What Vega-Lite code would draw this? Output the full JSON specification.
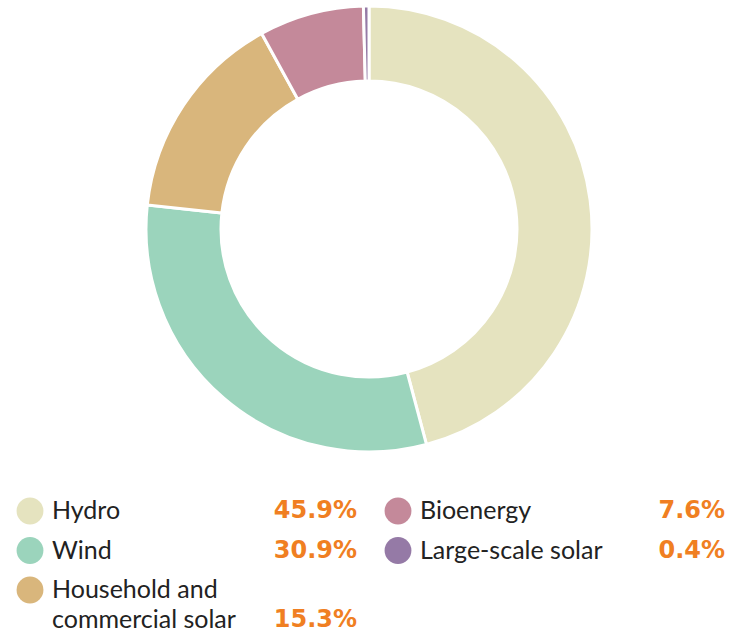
{
  "$schema": "https://vega.github.io/schema/vega-lite/v6.json",
  "width": 726,
  "padding": {"left": 6, "top": 0, "right": 0, "bottom": 0},
  "background": "white",
  "spacing": 0,
  "config": {"view": {"stroke": null}, "font": "Lato"},
  "data": {"values": [
    {"source": "Hydro", "label": "Hydro", "share": 45.9},
    {"source": "Wind", "label": "Wind", "share": 30.9},
    {"source": "Household and commercial solar", "label": "Household and\ncommercial solar", "share": 15.3},
    {"source": "Bioenergy", "label": "Bioenergy", "share": 7.6},
    {"source": "Large-scale solar", "label": "Large-scale solar", "share": 0.4}
  ]},
  "transform": [
    {"window": [{"op": "row_number", "as": "rank"}]},
    {"calculate": "floor((datum.rank - 1) / 3)", "as": "col"},
    {"calculate": "(datum.rank - 1) % 3", "as": "row"},
    {"calculate": "(indexof(datum.label, '\\n') >= 0 ? '\\n' : '') + format(datum.share, '.1f') + '%'", "as": "pct"}
  ],
  "vconcat": [
    {
      "width": 726,
      "height": 458,
      "mark": {"type": "arc", "outerRadius": 223, "innerRadius": 148, "stroke": "white", "strokeWidth": 3},
      "encoding": {
        "theta": {"field": "share", "type": "quantitative", "stack": true},
        "order": {"field": "rank", "type": "quantitative"},
        "color": {
          "field": "source", "type": "nominal", "legend": null,
          "scale": {
            "domain": ["Hydro", "Wind", "Household and commercial solar", "Bioenergy", "Large-scale solar"],
            "range": ["#e5e3bf", "#9bd4bc", "#d9b67c", "#c4899a", "#957aa6"]
          }
        }
      }
    },
    {
      "width": 726,
      "height": 174,
      "encoding": {
        "x": {"field": "col", "type": "quantitative", "axis": null, "scale": {"domain": [0, 1], "range": [24, 392], "nice": false, "zero": false}},
        "y": {"field": "row", "type": "quantitative", "axis": null, "scale": {"domain": [0, 2], "range": [53, 132], "nice": false, "zero": false}}
      },
      "layer": [
        {
          "mark": {"type": "point", "shape": "circle", "filled": true, "size": 720, "opacity": 1},
          "encoding": {
            "color": {"field": "source", "type": "nominal", "legend": null,
              "scale": {
                "domain": ["Hydro", "Wind", "Household and commercial solar", "Bioenergy", "Large-scale solar"],
                "range": ["#e5e3bf", "#9bd4bc", "#d9b67c", "#c4899a", "#957aa6"]
              }}
          }
        },
        {
          "mark": {"type": "text", "align": "left", "baseline": "middle", "dx": 22, "fontSize": 25, "color": "#222222", "lineBreak": "\n", "lineHeight": 30},
          "encoding": {"text": {"field": "label"}}
        },
        {
          "mark": {"type": "text", "align": "right", "baseline": "middle", "dx": 327, "font": "DejaVu Sans", "fontSize": 24, "fontWeight": "bold", "color": "#f07f22", "lineBreak": "\n", "lineHeight": 30},
          "encoding": {"text": {"field": "pct"}}
        }
      ]
    }
  ]
}
